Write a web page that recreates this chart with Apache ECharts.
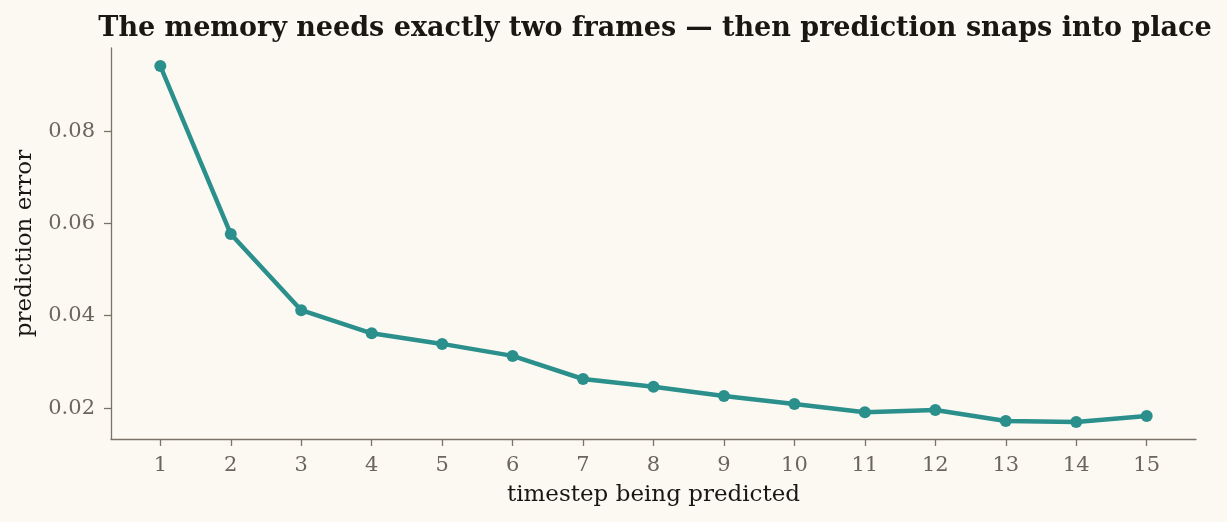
<!DOCTYPE html>
<html>
<head>
<meta charset="utf-8">
<script src="https://cdn.jsdelivr.net/npm/echarts@6/dist/echarts.min.js"></script>
<style>
  html, body { margin: 0; padding: 0; background: #fcf9f3; }
  #main { width: 1227px; height: 522px; }
</style>
</head>
<body>
<div id="main"></div>
<script>
// data
var timesteps = [1, 2, 3, 4, 5, 6, 7, 8, 9, 10, 11, 12, 13, 14, 15];
var predError = [0.0941, 0.0577, 0.0412, 0.0362, 0.0339, 0.0313, 0.0263, 0.0246,
                 0.0226, 0.0209, 0.0191, 0.0196, 0.0172, 0.0170, 0.0183];
var yTicks = [0.02, 0.04, 0.06, 0.08];

var serif = '"DejaVu Serif", serif';
var axisColor = '#7a7367';
var labelColor = '#6b665c';

var chart = echarts.init(document.getElementById('main'));

var points = timesteps.map(function (t, i) { return [t, predError[i]]; });

var option = {
    backgroundColor: '#fcf9f3',
    animation: false,
    title: {
        text: 'The memory needs exactly two frames \u2014 then prediction snaps into place',
        left: 650,
        textAlign: 'center',
        top: 10,
        textStyle: {
            fontFamily: serif,
            fontWeight: 'bold',
            fontSize: 27,
            color: '#1a1712'
        }
    },
    grid: {
        left: 111,
        right: 31,
        top: 48,
        bottom: 83
    },
    xAxis: {
        type: 'value',
        min: 0.3,
        max: 15.7,
        name: 'timestep being predicted',
        nameLocation: 'middle',
        nameGap: 45,
        nameTextStyle: { fontFamily: serif, fontSize: 23, color: '#1a1712' },
        splitLine: { show: false },
        axisLine: { show: true, lineStyle: { color: axisColor, width: 1.3 } },
        axisTick: { show: true, length: 7, lineStyle: { color: axisColor, width: 1.3 }, customValues: timesteps },
        axisLabel: { fontFamily: serif, fontSize: 21, color: labelColor, margin: 16, customValues: timesteps }
    },
    yAxis: {
        type: 'value',
        min: 0.0133,
        max: 0.098,
        name: 'prediction error',
        nameLocation: 'middle',
        nameGap: 74,
        nameTextStyle: { fontFamily: serif, fontSize: 23, color: '#1a1712' },
        splitLine: { show: false },
        axisLine: { show: true, lineStyle: { color: axisColor, width: 1.3 } },
        axisTick: { show: true, length: 7, lineStyle: { color: axisColor, width: 1.3 }, customValues: yTicks },
        axisLabel: {
            fontFamily: serif, fontSize: 21, color: labelColor, margin: 16,
            customValues: yTicks,
            formatter: function (v) { return v.toFixed(2); }
        }
    },
    series: [{
        type: 'line',
        data: points,
        symbol: 'circle',
        symbolSize: 12,
        lineStyle: { color: '#2b8f8c', width: 4.5 },
        itemStyle: { color: '#2b8f8c' }
    }]
};

chart.setOption(option);
</script>
</body>
</html>
